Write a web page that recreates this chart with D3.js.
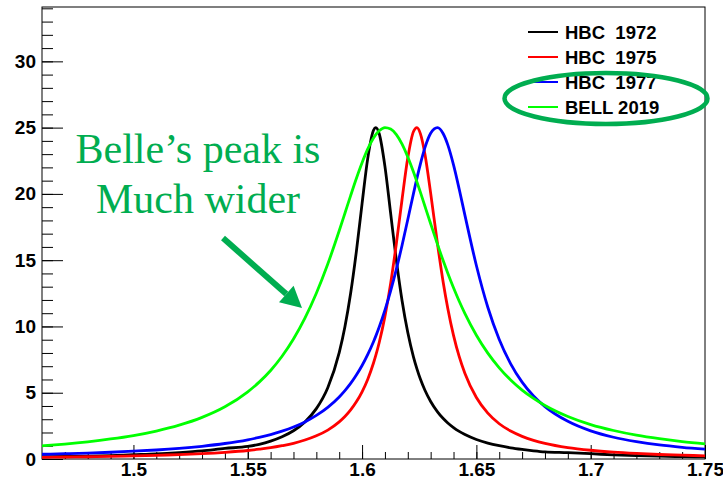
<!DOCTYPE html>
<html>
<head>
<meta charset="utf-8">
<script src="https://cdn.jsdelivr.net/npm/d3@7"></script>
<style>
  body { margin: 0; background: #fff; }
  svg { display: block; }
  .tick text { font-family: "Liberation Sans", Arial, sans-serif; font-weight: bold; font-size: 19px; fill: #000; }
</style>
</head>
<body>
<div id="chart"></div>
<script>
// Mass grid (GeV) shared by all four curves
var masses = [1.46, 1.47, 1.48, 1.49, 1.50, 1.51, 1.52, 1.53, 1.54, 1.55,
    1.555, 1.56, 1.565, 1.57, 1.575, 1.58, 1.585, 1.59, 1.5925, 1.595,
    1.5975, 1.60, 1.6025, 1.605, 1.606, 1.6075, 1.61, 1.6125, 1.615, 1.6175,
    1.62, 1.6225, 1.624, 1.6255, 1.6275, 1.63, 1.633, 1.6355, 1.6375, 1.64,
    1.6425, 1.645, 1.65, 1.655, 1.66, 1.665, 1.67, 1.675, 1.68, 1.69,
    1.70, 1.71, 1.72, 1.73, 1.74, 1.75];

var hbc1972 = [0.17, 0.19, 0.22, 0.26, 0.32, 0.38, 0.48, 0.61, 0.80, 0.95,
    1.11, 1.35, 1.68, 2.13, 2.80, 3.80, 5.38, 8.02, 9.98, 12.5,
    15.65, 19.27, 22.70, 24.80, 25.0, 24.54, 22.08, 18.53, 14.98, 11.94,
    9.54, 7.69, 6.80, 6.03, 5.19, 4.34, 3.56, 3.05, 2.72, 2.37,
    2.08, 1.84, 1.47, 1.20, 1.00, 0.84, 0.72, 0.62, 0.54, 0.48,
    0.40, 0.31, 0.25, 0.21, 0.18, 0.16];

var hbc1975 = [0.13, 0.15, 0.17, 0.20, 0.23, 0.28, 0.33, 0.40, 0.50, 0.64,
    0.74, 0.85, 1.00, 1.18, 1.43, 1.75, 2.18, 2.80, 3.20, 3.70,
    4.31, 5.07, 6.02, 7.24, 7.81, 8.79, 10.76, 13.25, 16.26, 19.60,
    22.72, 24.71, 25.0, 24.55, 22.99, 20.06, 16.22, 13.32, 11.36, 9.33,
    7.72, 6.45, 4.64, 3.46, 2.66, 2.11, 1.71, 1.41, 1.18, 0.86,
    0.66, 0.52, 0.42, 0.34, 0.29, 0.24];

var hbc1977 = [0.36, 0.40, 0.45, 0.51, 0.59, 0.68, 0.80, 0.96, 1.17, 1.45,
    1.63, 1.84, 2.10, 2.41, 2.80, 3.29, 3.90, 4.68, 5.16, 5.70,
    6.33, 7.05, 7.89, 8.85, 9.27, 9.96, 11.23, 12.68, 14.32, 16.13,
    18.07, 20.04, 21.19, 22.25, 23.49, 24.57, 25.0, 24.54, 23.70, 22.19,
    20.35, 18.38, 14.60, 11.45, 9.02, 7.18, 5.80, 4.75, 3.95, 2.84,
    2.12, 1.64, 1.31, 1.06, 0.88, 0.74];

var bell2019 = [0.99, 1.13, 1.30, 1.51, 1.77, 2.11, 2.55, 3.14, 3.94, 5.07,
    5.80, 6.68, 7.75, 9.05, 10.62, 12.5, 14.71, 17.22, 18.54, 19.87,
    21.16, 22.35, 23.39, 24.21, 24.47, 24.76, 25.0, 24.89, 24.47, 23.75,
    22.79, 21.65, 20.90, 20.13, 19.07, 17.75, 16.19, 14.95, 14.02, 12.92,
    11.90, 10.97, 9.34, 7.99, 6.88, 5.96, 5.20, 4.57, 4.04, 3.21,
    2.60, 2.15, 1.80, 1.53, 1.31, 1.14];

var series_names = ["HBC  1972", "HBC  1975", "HBC  1977", "BELL 2019"];
var series_colors = ["#000000", "#ff0000", "#0000ff", "#00ff00"];

var x_ticks = [1.5, 1.55, 1.6, 1.65, 1.7, 1.75];
var y_ticks = [0, 5, 10, 15, 20, 25, 30];

var note_lines = ["Belle\u2019s peak is", "Much wider"];

// Layout constants
const width = 723, height = 482;
const plot = {left: 42, right: 705, top: 7, bottom: 459};
const green_note = "#00ad50";

var svg = d3.select("#chart").append("svg")
    .attr("width", width)
    .attr("height", height);

svg.append("rect").attr("width", width).attr("height", height).attr("fill", "#fff");

var x_scale = d3.scaleLinear().domain([1.46, 1.75]).range([plot.left, plot.right]);
var y_scale = d3.scaleLinear().domain([0, 34.1]).range([plot.bottom, plot.top]);

// minor ticks
var x_minor = d3.range(147, 176).map(d => d / 100);
var y_minor = d3.range(0, 35);

svg.append("g")
    .attr("transform", "translate(0," + plot.bottom + ")")
    .call(d3.axisBottom(x_scale).tickValues(x_minor).tickSizeInner(-7).tickSizeOuter(0).tickFormat(""))
    .call(g => g.select(".domain").remove());

svg.append("g")
    .attr("transform", "translate(" + plot.left + ",0)")
    .call(d3.axisLeft(y_scale).tickValues(y_minor).tickSizeInner(-11).tickSizeOuter(0).tickFormat(""))
    .call(g => g.select(".domain").remove());

// major ticks + labels
svg.append("g")
    .attr("transform", "translate(0," + plot.bottom + ")")
    .call(d3.axisBottom(x_scale).tickValues(x_ticks).tickSizeInner(-14).tickSizeOuter(0).tickPadding(4)
        .tickFormat(d => String(d)))
    .call(g => g.select(".domain").remove());

svg.append("g")
    .attr("transform", "translate(" + plot.left + ",0)")
    .call(d3.axisLeft(y_scale).tickValues(y_ticks).tickSizeInner(-21).tickSizeOuter(0).tickPadding(6)
        .tickFormat(d => String(d)))
    .call(g => g.select(".domain").remove());

svg.selectAll(".tick line").attr("stroke", "#000").attr("stroke-width", 1);

// frame
svg.append("rect")
    .attr("x", plot.left).attr("y", plot.top)
    .attr("width", plot.right - plot.left).attr("height", plot.bottom - plot.top)
    .attr("fill", "none").attr("stroke", "#000").attr("stroke-width", 1);

// curves
var all_series = [hbc1972, hbc1975, hbc1977, bell2019];

var line = d3.line()
    .x((d, i) => x_scale(masses[i]))
    .y(d => y_scale(d))
    .curve(d3.curveMonotoneX);

svg.append("g").selectAll("path")
    .data(all_series)
    .enter().append("path")
    .attr("d", line)
    .attr("fill", "none")
    .attr("stroke", (d, i) => series_colors[i])
    .attr("stroke-width", 2.8)
    .attr("stroke-linejoin", "round");

// legend
var legend = svg.append("g").attr("transform", "translate(528,32)");
var entries = legend.selectAll("g")
    .data(series_names)
    .enter().append("g")
    .attr("transform", (d, i) => "translate(0," + (i * 25) + ")");

entries.append("line")
    .attr("x1", 0).attr("x2", 30).attr("y1", 0).attr("y2", 0)
    .attr("stroke", (d, i) => series_colors[i])
    .attr("stroke-width", 2);

entries.append("text")
    .attr("x", 37).attr("y", 0).attr("dy", "0.36em")
    .style("white-space", "pre")
    .attr("font-family", "Liberation Sans, Arial, sans-serif")
    .attr("font-weight", "bold")
    .attr("font-size", 18.5)
    .text(d => d);

// annotation
svg.append("ellipse")
    .attr("cx", 606).attr("cy", 98.5)
    .attr("rx", 101.5).attr("ry", 25.5)
    .attr("fill", "none")
    .attr("stroke", green_note)
    .attr("stroke-width", 4.5);

svg.append("g").selectAll("text")
    .data(note_lines)
    .enter().append("text")
    .attr("x", 198)
    .attr("y", (d, i) => 163 + i * 50)
    .attr("text-anchor", "middle")
    .attr("font-family", "Liberation Serif, Times New Roman, serif")
    .attr("font-size", 42)
    .attr("fill", green_note)
    .text(d => d);

// arrow pointing at the green curve
var a0 = [223, 238], a1 = [302, 308];
var ang = Math.atan2(a1[1] - a0[1], a1[0] - a0[0]);
var head_len = 21, head_w = 11;
var base = [a1[0] - head_len * Math.cos(ang), a1[1] - head_len * Math.sin(ang)];

svg.append("line")
    .attr("x1", a0[0]).attr("y1", a0[1])
    .attr("x2", base[0]).attr("y2", base[1])
    .attr("stroke", green_note)
    .attr("stroke-width", 6);

svg.append("path")
    .attr("d", "M" + a1[0] + "," + a1[1] +
        "L" + (base[0] + head_w * Math.sin(ang)) + "," + (base[1] - head_w * Math.cos(ang)) +
        "L" + (base[0] - head_w * Math.sin(ang)) + "," + (base[1] + head_w * Math.cos(ang)) + "Z")
    .attr("fill", green_note);
</script>
</body>
</html>
